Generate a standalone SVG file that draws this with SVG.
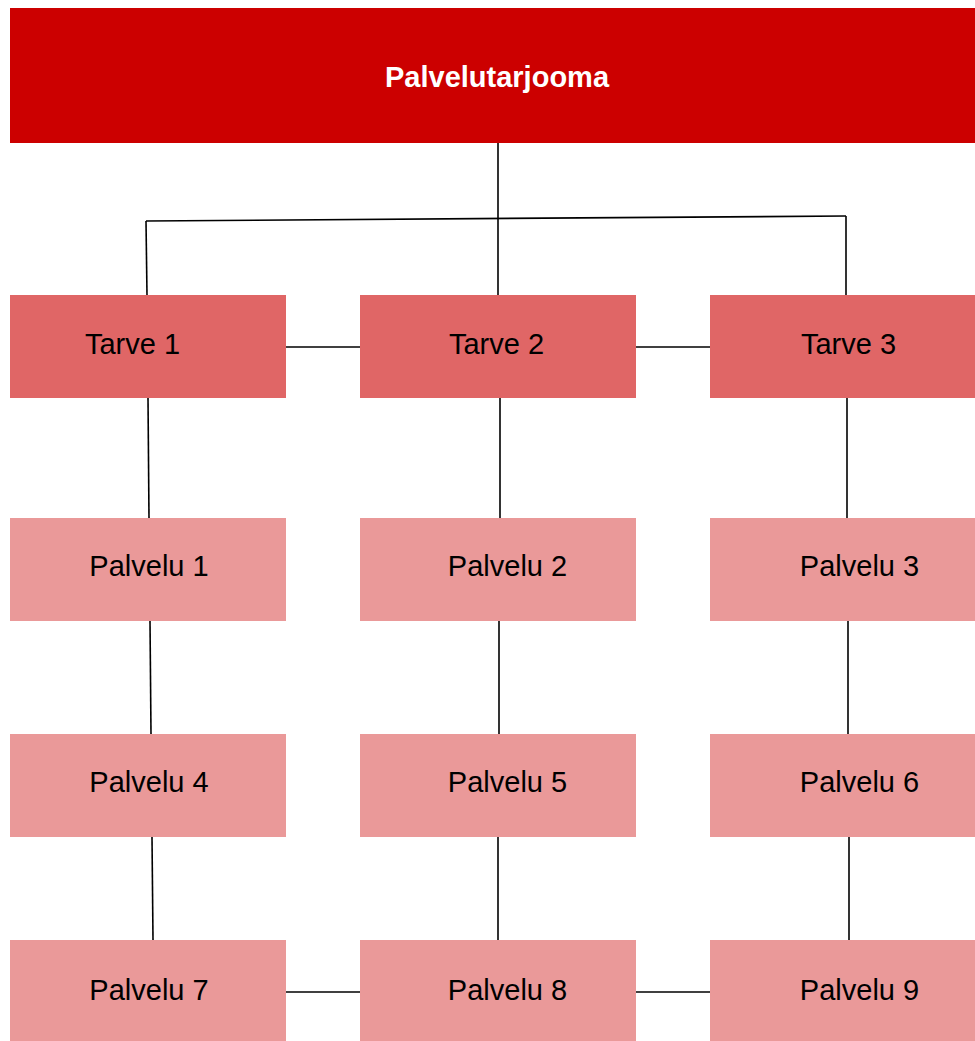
<svg xmlns="http://www.w3.org/2000/svg" width="975" height="1041" viewBox="0 0 975 1041">
<style>
.top{fill:#CC0000}
.need{fill:#E06666}
.svc{fill:#EA9999}
text{font-family:"Liberation Sans",Arial,sans-serif;font-size:29px;fill:#000;text-anchor:middle}
.title{font-weight:bold;font-size:29px;fill:#fff}
.conn line{stroke:#000;stroke-width:1.6}
</style>
<rect width="975" height="1041" fill="#fff"/>
<g class="conn">
<line x1="498" y1="143" x2="498" y2="295"/>
<line x1="146" y1="221" x2="846" y2="216"/>
<line x1="146" y1="221" x2="147" y2="295"/>
<line x1="846" y1="216" x2="846" y2="295"/>
<line x1="286" y1="347" x2="360" y2="347"/>
<line x1="636" y1="347" x2="710" y2="347"/>
<line x1="148" y1="398" x2="149" y2="518"/>
<line x1="150" y1="621" x2="151" y2="734"/>
<line x1="152" y1="837" x2="153" y2="940"/>
<line x1="500" y1="398" x2="500" y2="518"/>
<line x1="499" y1="621" x2="499" y2="734"/>
<line x1="498" y1="837" x2="498" y2="940"/>
<line x1="847" y1="398" x2="847" y2="518"/>
<line x1="848" y1="621" x2="848" y2="734"/>
<line x1="849" y1="837" x2="849" y2="940"/>
<line x1="286" y1="992" x2="360" y2="992"/>
<line x1="636" y1="992" x2="710" y2="992"/>
</g>
<g id="palvelutarjooma"><rect class="top" x="10" y="8" width="965" height="135"/><text class="title" x="497" y="87">Palvelutarjooma</text></g>
<g id="tarve1"><rect class="need" x="10" y="295" width="276" height="103"/><text x="132.5" y="354">Tarve 1</text></g>
<g id="tarve2"><rect class="need" x="360" y="295" width="276" height="103"/><text x="496.5" y="354">Tarve 2</text></g>
<g id="tarve3"><rect class="need" x="710" y="295" width="265" height="103"/><text x="848.5" y="354">Tarve 3</text></g>
<g id="palvelu1"><rect class="svc" x="10" y="518" width="276" height="103"/><text x="149" y="576">Palvelu 1</text></g>
<g id="palvelu2"><rect class="svc" x="360" y="518" width="276" height="103"/><text x="507.5" y="576">Palvelu 2</text></g>
<g id="palvelu3"><rect class="svc" x="710" y="518" width="265" height="103"/><text x="859.5" y="576">Palvelu 3</text></g>
<g id="palvelu4"><rect class="svc" x="10" y="734" width="276" height="103"/><text x="149" y="792">Palvelu 4</text></g>
<g id="palvelu5"><rect class="svc" x="360" y="734" width="276" height="103"/><text x="507.5" y="792">Palvelu 5</text></g>
<g id="palvelu6"><rect class="svc" x="710" y="734" width="265" height="103"/><text x="859.5" y="792">Palvelu 6</text></g>
<g id="palvelu7"><rect class="svc" x="10" y="940" width="276" height="101"/><text x="149" y="1000">Palvelu 7</text></g>
<g id="palvelu8"><rect class="svc" x="360" y="940" width="276" height="101"/><text x="507.5" y="1000">Palvelu 8</text></g>
<g id="palvelu9"><rect class="svc" x="710" y="940" width="265" height="101"/><text x="859.5" y="1000">Palvelu 9</text></g>
</svg>
